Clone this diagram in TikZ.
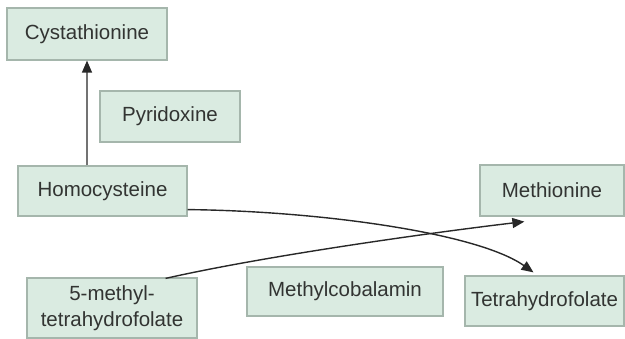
\documentclass[tikz,border=0pt]{standalone}
\usepackage{fontspec}
\setmainfont{Liberation Sans}
\usetikzlibrary{arrows.meta,calc}
\definecolor{boxfill}{RGB}{218,235,225}
\definecolor{boxline}{RGB}{165,182,172}
\definecolor{txt}{RGB}{50,52,50}
\definecolor{arr}{RGB}{40,40,40}
\tikzset{
  box/.style={draw=boxline, line width=1.2pt, fill=boxfill, text=txt, inner sep=0pt,
    font=\fontsize{20.5}{26}\selectfont, align=center},
  conn/.style={draw=arr, line width=1.4pt, -{Triangle[length=12pt,width=10pt,color=arr]}}
}
\begin{document}
\begin{tikzpicture}[x=1pt,y=-1pt]
\useasboundingbox (0,0) rectangle (625,339);
\node[box, minimum width=160pt, minimum height=52pt] (cyst) at (87,34) {Cystathionine};
\node[box, minimum width=140pt, minimum height=51pt] (pyr) at (170,116.5) {Pyridoxine};
\node[box, minimum width=169pt, minimum height=50pt] (homo) at (102.5,191) {Homocysteine};
\node[box, minimum width=144pt, minimum height=51pt] (meth) at (552,190.5) {Methionine};
\node[box, minimum width=170pt, minimum height=60pt] (mthf) at (112,308) {5-methyl-\\tetrahydrofolate};
\node[box, minimum width=196pt, minimum height=49pt] (mcob) at (345,291.5) {Methylcobalamin};
\node[box, minimum width=159pt, minimum height=50pt] (thf) at (544.5,301) {Tetrahydrofolate};
\coordinate (hs) at ($(homo.south east)+(0,-7)$);
\coordinate (te) at ($(thf.north)+(-11,-3)$);
\coordinate (ms) at ($(mthf.north east)+(-32,1)$);
\coordinate (me) at ($(meth.south west)+(45,5)$);
\draw[conn, draw=arr!65] (cyst.south |- homo.north) -- (cyst.south);
\draw[conn] (hs) .. controls (320,211) and (478,233) .. (te);
\draw[conn] (ms) .. controls (260,257) and (420,234) .. (me);
\end{tikzpicture}
\end{document}
